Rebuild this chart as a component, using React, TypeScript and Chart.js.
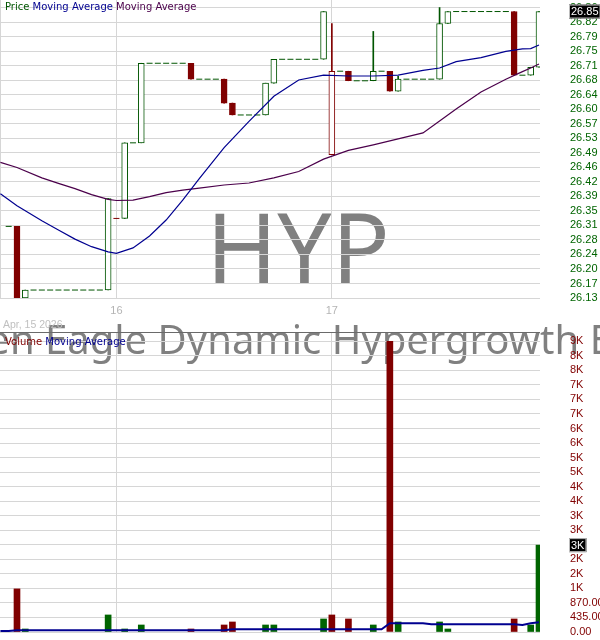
import { useEffect, useRef } from 'react';
import { Chart, registerables } from 'chart.js';

Chart.register(...registerables);

// 15-minute bars. Slot 12 is the first bar of Apr 16, slot 38 the first of Apr 17.
const firstSlot = -1;

const opens = [
  26.31, 26.31, 26.13, 26.15, 26.15, 26.15, 26.15, 26.15, 26.15, 26.15, 26.15, 26.15, 26.15,
  26.33, 26.33, 26.52, 26.52, 26.72, 26.72, 26.72, 26.72, 26.72, 26.72, 26.68, 26.68, 26.68,
  26.68, 26.62, 26.59, 26.59, 26.59, 26.59, 26.67, 26.73, 26.73, 26.73, 26.73, 26.73, 26.73,
  26.49, 26.7, 26.7, 26.676, 26.676, 26.676, 26.7, 26.7, 26.65, 26.68, 26.68, 26.68, 26.68,
  26.68, 26.82, 26.85, 26.85, 26.85, 26.85, 26.85, 26.85, 26.85, 26.85, 26.69, 26.69, 26.71,
];
const highs = [
  26.31, 26.31, 26.15, 26.15, 26.15, 26.15, 26.15, 26.15, 26.15, 26.15, 26.15, 26.15, 26.38,
  26.33, 26.52, 26.52, 26.72, 26.72, 26.72, 26.72, 26.72, 26.72, 26.72, 26.68, 26.68, 26.68,
  26.68, 26.62, 26.59, 26.59, 26.59, 26.67, 26.73, 26.73, 26.73, 26.73, 26.73, 26.73, 26.85,
  26.82, 26.7, 26.7, 26.676, 26.676, 26.8, 26.7, 26.7, 26.687, 26.68, 26.68, 26.68, 26.68,
  26.86, 26.85, 26.85, 26.85, 26.85, 26.85, 26.85, 26.85, 26.85, 26.85, 26.69, 26.71, 26.85,
];
const lows = [
  26.31, 26.13, 26.13, 26.15, 26.15, 26.15, 26.15, 26.15, 26.15, 26.15, 26.15, 26.15, 26.15,
  26.33, 26.33, 26.52, 26.52, 26.72, 26.72, 26.72, 26.72, 26.72, 26.68, 26.68, 26.68, 26.68,
  26.62, 26.59, 26.59, 26.59, 26.59, 26.59, 26.67, 26.73, 26.73, 26.73, 26.73, 26.73, 26.73,
  26.49, 26.7, 26.676, 26.676, 26.676, 26.676, 26.7, 26.65, 26.65, 26.68, 26.68, 26.68, 26.68,
  26.68, 26.82, 26.85, 26.85, 26.85, 26.85, 26.85, 26.85, 26.85, 26.69, 26.69, 26.69, 26.71,
];
const closes = [
  26.31, 26.13, 26.15, 26.15, 26.15, 26.15, 26.15, 26.15, 26.15, 26.15, 26.15, 26.15, 26.38,
  26.33, 26.52, 26.52, 26.72, 26.72, 26.72, 26.72, 26.72, 26.72, 26.68, 26.68, 26.68, 26.68,
  26.62, 26.59, 26.59, 26.59, 26.59, 26.67, 26.73, 26.73, 26.73, 26.73, 26.73, 26.73, 26.85,
  26.7, 26.7, 26.676, 26.676, 26.676, 26.7, 26.7, 26.65, 26.68, 26.68, 26.68, 26.68, 26.68,
  26.82, 26.85, 26.85, 26.85, 26.85, 26.85, 26.85, 26.85, 26.85, 26.69, 26.69, 26.71, 26.85,
];
const volumes = [
  0, 1290, 90, 0, 0, 0, 0, 0, 0, 0, 0, 0, 510,
  0, 90, 0, 210, 0, 0, 0, 0, 0, 90, 0, 0, 0,
  210, 300, 0, 0, 0, 210, 210, 0, 0, 0, 0, 0, 390,
  510, 0, 390, 0, 0, 210, 0, 8700, 300, 0, 0, 0, 0,
  300, 90, 0, 0, 0, 0, 0, 0, 0, 390, 0, 210, 2600,
];

// moving averages read at selected slots
const maSlots = [-2, 0, 3, 5, 7, 9, 11, 12, 14, 16, 18, 20, 22, 25, 28, 31, 34, 37, 40, 43, 46, 49, 51, 53, 56, 59, 61, 62, 63];
const fastMA = [
  26.392, 26.362, 26.324, 26.301, 26.278, 26.259, 26.246, 26.242, 26.256, 26.286, 26.326, 26.376, 26.43,
  26.508, 26.574, 26.637, 26.678, 26.69, 26.688, 26.688, 26.69, 26.702, 26.708, 26.724, 26.734, 26.75,
  26.756, 26.757, 26.766,
];
const slowMA = [
  26.471, 26.458, 26.432, 26.418, 26.405, 26.39, 26.378, 26.375, 26.376, 26.385, 26.395, 26.401, 26.406,
  26.414, 26.419, 26.432, 26.448, 26.479, 26.501, 26.515, 26.53, 26.545, 26.575, 26.605, 26.648, 26.68,
  26.699, 26.708, 26.718,
];
const volMaSlots = [-2, -1, 0, 25, 26, 44, 45, 49, 50, 60, 61, 62, 63];
const volMA = [30, 30, 50, 50, 80, 80, 260, 260, 230, 230, 210, 260, 290];

const dayTickSlots = [12, 38];
const dayTickLabels = ['16', '17'];
const dateLabel = 'Apr, 15 2026';
const symbol = 'HYP';
const fundName = 'Golden Eagle Dynamic Hypergrowth ETF';

const priceTickLabels = [
  '26.13', '26.17', '26.20', '26.24', '26.28', '26.31', '26.35', '26.39', '26.42', '26.46', '26.49',
  '26.53', '26.57', '26.60', '26.64', '26.68', '26.71', '26.75', '26.79', '26.82', '26.86',
];
const priceTickRange = [26.13, 26.86];
const volumeTickLabels = [
  '0.00', '435.00', '870.00', '1K', '2K', '2K', '3K', '3K', '3K', '4K', '4K',
  '5K', '5K', '6K', '6K', '7K', '7K', '7K', '8K', '8K', '9K',
];
const volumeTickRange = [0, 8700];

const GREEN = '#005500';
const VOL_GREEN = '#006400';
const RED = '#800000';
const BLUE = '#000090';
const PURPLE = '#4b004b';
const GRID = '#d6d6d6';
const LABEL_FONT = '"Liberation Sans", Arial, sans-serif';
const SMALL_FONT = '"DejaVu Sans", Verdana, sans-serif';

const PRICE_H = 332;
const X_MIN = -2.05;
const X_MAX = 63.12;

const slotOf = (i: number) => firstSlot + i;
const candleColor = (i: number) => (i > 0 && closes[i] < closes[i - 1] ? RED : GREEN);
const evenTicks = (range: number[], n: number) =>
  Array.from({ length: n }, (_, k) => ({ value: range[0] + ((range[1] - range[0]) * k) / (n - 1) }));
const formatVolume = (v: number) => (v < 1000 ? v.toFixed(2) : `${Math.round(v / 1000)}K`);

function drawRuns(ctx: CanvasRenderingContext2D, runs: [string, string][], x: number, y: number) {
  ctx.save();
  ctx.font = `10px ${SMALL_FONT}`;
  ctx.textBaseline = 'alphabetic';
  ctx.textAlign = 'left';
  let cx = x;
  for (const [text, color] of runs) {
    ctx.fillStyle = color;
    ctx.fillText(text, cx, y);
    cx += ctx.measureText(text + ' ').width;
  }
  ctx.restore();
}

function drawValueBox(chart: any, text: string, y: number) {
  const { ctx, chartArea } = chart;
  ctx.save();
  ctx.font = `11px ${LABEL_FONT}`;
  const w = ctx.measureText(text).width + 4;
  const x = chartArea.right + 29;
  ctx.fillStyle = '#000';
  ctx.fillRect(x, y - 7, w, 14);
  ctx.strokeStyle = '#bdbdbd';
  ctx.lineWidth = 1;
  ctx.strokeRect(x + 0.5, y - 6.5, w - 1, 13);
  ctx.fillStyle = '#fff';
  ctx.textBaseline = 'middle';
  ctx.textAlign = 'left';
  ctx.fillText(text, x + 2, y + 0.5);
  ctx.restore();
}

// big grey symbol and fund name behind both panels; offsetY = canvas top on the page
const watermark = (offsetY: number) => ({
  id: 'watermark',
  beforeDraw(chart: any) {
    const { ctx } = chart;
    ctx.save();
    ctx.fillStyle = '#808080';
    ctx.textAlign = 'center';
    ctx.textBaseline = 'alphabetic';
    ctx.font = '96px "Noto Sans"';
    ctx.fillText(symbol, 298, 283 - offsetY);
    ctx.font = '40px "Noto Sans"';
    ctx.fillText(fundName, 277, 354 - offsetY);
    ctx.restore();
  },
});

const priceOverlay = {
  id: 'priceOverlay',
  afterDraw(chart: any) {
    const { ctx } = chart;
    drawRuns(ctx, [['Price', GREEN], ['Moving Average', BLUE], ['Moving Average', PURPLE]], 5, 10);
    ctx.save();
    ctx.font = `10.5px ${LABEL_FONT}`;
    ctx.fillStyle = '#c0c0c0';
    ctx.textBaseline = 'alphabetic';
    ctx.fillText(dateLabel, 3, 328);
    ctx.restore();
    const last = closes[closes.length - 1];
    drawValueBox(chart, last.toFixed(2), chart.scales.y.getPixelForValue(last));
  },
};

const volumeOverlay = {
  id: 'volumeOverlay',
  beforeDatasetsDraw(chart: any) {
    const { ctx, chartArea } = chart;
    ctx.save();
    ctx.strokeStyle = '#6a6a6a';
    ctx.lineWidth = 1;
    ctx.beginPath();
    ctx.moveTo(chartArea.left, chartArea.top + 0.5);
    ctx.lineTo(chartArea.right, chartArea.top + 0.5);
    ctx.stroke();
    ctx.restore();
  },
  afterDraw(chart: any) {
    drawRuns(chart.ctx, [['Volume', RED], ['Moving Average', BLUE]], 5, 13);
    const last = volumes[volumes.length - 1];
    drawValueBox(chart, formatVolume(last), chart.scales.y.getPixelForValue(last));
  },
};

const lineDefaults = { pointRadius: 0, pointHoverRadius: 0, pointBorderWidth: 0, tension: 0 };

function priceConfig(): any {
  const wicks: any[] = [];
  const wickColors: string[] = [];
  const bodies: any[] = [];
  const bodyFill: string[] = [];
  const bodyBorder: string[] = [];
  const flats: any[] = [];
  const flatColors: string[] = [];
  closes.forEach((c, i) => {
    const x = slotOf(i);
    const o = opens[i];
    const col = candleColor(i);
    if (highs[i] > lows[i]) {
      wicks.push({ x, y: [lows[i], highs[i]] });
      wickColors.push(col);
    }
    if (o !== c) {
      bodies.push({ x, y: [Math.min(o, c), Math.max(o, c)] });
      bodyFill.push(c < o ? col : '#ffffff');
      bodyBorder.push(col);
    } else {
      flats.push({ x, y: c });
      flatColors.push(col);
    }
  });

  return {
    type: 'bar',
    data: {
      datasets: [
        {
          type: 'line',
          data: maSlots.map((s, k) => ({ x: s, y: fastMA[k] })),
          borderColor: BLUE,
          borderWidth: 1.2,
          ...lineDefaults,
          order: 0,
        },
        {
          type: 'line',
          data: maSlots.map((s, k) => ({ x: s, y: slowMA[k] })),
          borderColor: PURPLE,
          borderWidth: 1.2,
          ...lineDefaults,
          order: 0,
        },
        {
          type: 'scatter',
          data: flats,
          pointStyle: 'line',
          pointRadius: 3,
          pointHoverRadius: 3,
          pointBorderWidth: 1,
          pointBorderColor: flatColors,
          pointBackgroundColor: flatColors,
          order: 1,
        },
        {
          data: bodies,
          backgroundColor: bodyFill,
          borderColor: bodyBorder,
          borderWidth: 1,
          borderSkipped: false,
          barThickness: 6,
          grouped: false,
          order: 2,
        },
        {
          data: wicks,
          backgroundColor: wickColors,
          borderWidth: 0,
          barThickness: 1,
          grouped: false,
          order: 3,
        },
      ],
    },
    options: {
      responsive: true,
      maintainAspectRatio: false,
      animation: false,
      events: [],
      layout: { padding: 0, autoPadding: false },
      plugins: { legend: { display: false }, tooltip: { enabled: false } },
      scales: {
        x: {
          type: 'linear',
          min: X_MIN,
          max: X_MAX,
          offset: false,
          grid: { color: GRID, offset: false, drawTicks: false },
          border: { display: false },
          afterBuildTicks: (s: any) => {
            s.ticks = [{ value: X_MIN }, ...dayTickSlots.map((v) => ({ value: v }))];
          },
          ticks: {
            autoSkip: false,
            maxRotation: 0,
            padding: 6,
            color: '#b4b4b4',
            font: { family: LABEL_FONT, size: 11 },
            callback: (_v: number, i: number) => (i === 0 ? '' : dayTickLabels[i - 1]),
          },
          afterFit: (s: any) => {
            s.height = 34;
            s.paddingLeft = 0;
            s.paddingRight = 0;
          },
        },
        y: {
          position: 'right',
          min: 26.13,
          max: 26.879,
          grid: { color: GRID, drawTicks: false },
          border: { display: false },
          afterBuildTicks: (s: any) => {
            s.ticks = evenTicks(priceTickRange, priceTickLabels.length);
          },
          ticks: {
            autoSkip: false,
            padding: 30,
            color: '#006400',
            font: { family: LABEL_FONT, size: 11 },
            callback: (_v: number, i: number) => priceTickLabels[i],
          },
          afterFit: (s: any) => {
            s.width = 60;
            s.paddingTop = 0;
            s.paddingBottom = 0;
          },
        },
      },
    },
    plugins: [watermark(0), priceOverlay],
  };
}

function volumeConfig(): any {
  const bars: any[] = [];
  const barColors: string[] = [];
  volumes.forEach((v, i) => {
    if (v > 0) {
      bars.push({ x: slotOf(i), y: v });
      barColors.push(candleColor(i) === RED ? RED : VOL_GREEN);
    }
  });

  return {
    type: 'bar',
    data: {
      datasets: [
        {
          type: 'line',
          data: volMaSlots.map((s, k) => ({ x: s, y: volMA[k] })),
          borderColor: BLUE,
          borderWidth: 2,
          ...lineDefaults,
          order: 0,
        },
        {
          data: bars,
          backgroundColor: barColors,
          borderWidth: 0,
          barThickness: 6,
          grouped: false,
          order: 1,
        },
      ],
    },
    options: {
      responsive: true,
      maintainAspectRatio: false,
      animation: false,
      events: [],
      layout: { padding: { bottom: 8 }, autoPadding: false },
      plugins: { legend: { display: false }, tooltip: { enabled: false } },
      scales: {
        x: {
          type: 'linear',
          min: X_MIN,
          max: X_MAX,
          offset: false,
          grid: { color: GRID, offset: false, drawTicks: false },
          border: { display: false },
          afterBuildTicks: (s: any) => {
            s.ticks = dayTickSlots.map((v) => ({ value: v }));
          },
          ticks: { display: false },
          afterFit: (s: any) => {
            s.height = 0;
            s.paddingLeft = 0;
            s.paddingRight = 0;
          },
        },
        y: {
          position: 'right',
          min: 0,
          max: 8978,
          grid: { color: GRID, drawTicks: false },
          border: { display: false },
          afterBuildTicks: (s: any) => {
            s.ticks = evenTicks(volumeTickRange, volumeTickLabels.length);
          },
          ticks: {
            autoSkip: false,
            padding: 30,
            color: RED,
            font: { family: LABEL_FONT, size: 11 },
            callback: (_v: number, i: number) => volumeTickLabels[i],
          },
          afterFit: (s: any) => {
            s.width = 60;
            s.paddingTop = 0;
            s.paddingBottom = 0;
          },
        },
      },
    },
    plugins: [watermark(PRICE_H), volumeOverlay],
  };
}

export default function App() {
  const priceRef = useRef<HTMLCanvasElement | null>(null);
  const volumeRef = useRef<HTMLCanvasElement | null>(null);

  useEffect(() => {
    if (!priceRef.current || !volumeRef.current) {
      return;
    }
    const priceChart = new Chart(priceRef.current, priceConfig());
    const volumeChart = new Chart(volumeRef.current, volumeConfig());
    return () => {
      priceChart.destroy();
      volumeChart.destroy();
    };
  }, []);

  return (
    <div style={{ position: 'absolute', left: 0, top: 0, width: 600, height: 640, background: '#fff' }}>
      <div style={{ position: 'absolute', left: 0, top: 0, width: 600, height: PRICE_H }}>
        <canvas ref={priceRef} />
      </div>
      <div style={{ position: 'absolute', left: 0, top: PRICE_H, width: 600, height: 640 - PRICE_H }}>
        <canvas ref={volumeRef} />
      </div>
    </div>
  );
}
